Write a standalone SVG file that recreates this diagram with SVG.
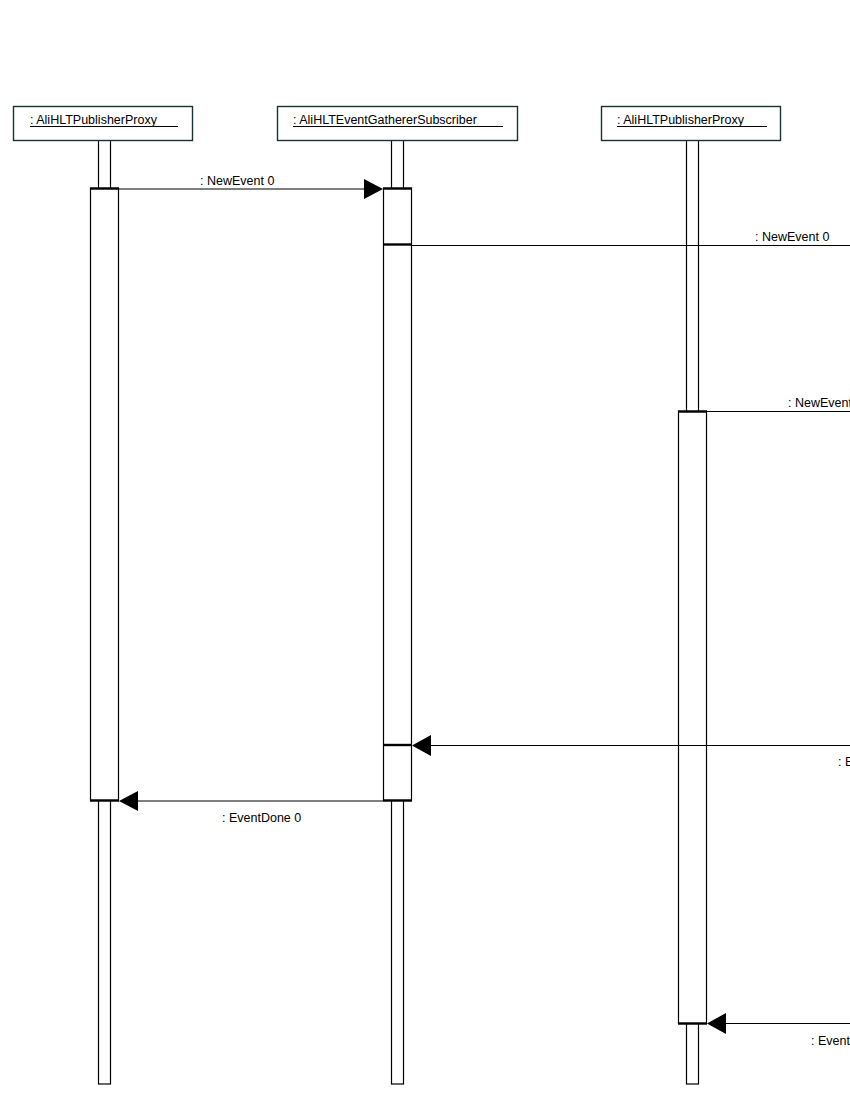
<svg xmlns="http://www.w3.org/2000/svg" width="850" height="1100" viewBox="0 0 850 1100">
<style>
.obj{fill:#fff;stroke:#1c3232;stroke-width:1.4}
.life{fill:#fff;stroke:#000;stroke-width:1.2}
.act{fill:#fff;stroke:#000;stroke-width:1.2}
.thick{stroke:#000;stroke-width:2.4}
.msg{stroke:#000;stroke-width:1.2;fill:none}
.head{fill:#000}
text{font-family:"Liberation Sans",Arial,sans-serif;font-size:12.5px;fill:#000}
.ul{stroke:#000;stroke-width:1}
</style>
<rect width="850" height="1100" fill="#fff"/>

<g id="obj1">
<rect class="life" x="98.5" y="140" width="12" height="944"/>
<rect class="act" x="90.5" y="188.5" width="28" height="612"/>
<line class="thick" x1="90" y1="188.5" x2="119" y2="188.5"/>
<line class="thick" x1="90" y1="800.5" x2="119" y2="800.5"/>
<rect class="obj" x="13.5" y="106.5" width="179" height="34"/>
<text x="30" y="124">: AliHLTPublisherProxy</text>
<line class="ul" x1="30" y1="126.5" x2="178" y2="126.5"/>
</g>

<g id="obj2">
<rect class="life" x="391.5" y="140" width="12" height="944"/>
<rect class="act" x="383.5" y="188.5" width="28" height="612"/>
<line class="thick" x1="383" y1="188.5" x2="412" y2="188.5"/>
<line class="thick" x1="383" y1="244.5" x2="412" y2="244.5"/>
<line class="thick" x1="383" y1="745" x2="412" y2="745"/>
<line class="thick" x1="383" y1="800.5" x2="412" y2="800.5"/>
<rect class="obj" x="277.5" y="106.5" width="240" height="34"/>
<text x="293" y="124">: AliHLTEventGathererSubscriber</text>
<line class="ul" x1="293" y1="126.5" x2="503" y2="126.5"/>
</g>

<g id="obj3">
<rect class="life" x="686.5" y="140" width="12" height="944"/>
<rect class="act" x="678.5" y="411.5" width="28" height="612"/>
<line class="thick" x1="678" y1="411.5" x2="707" y2="411.5"/>
<line class="thick" x1="678" y1="1023.5" x2="707" y2="1023.5"/>
<rect class="obj" x="601.5" y="106.5" width="179" height="34"/>
<text x="617" y="124">: AliHLTPublisherProxy</text>
<line class="ul" x1="617" y1="126.5" x2="767" y2="126.5"/>
</g>

<g id="connectors">
<line class="msg" x1="118" y1="189" x2="366" y2="189"/>
<polygon class="head" points="383,189 364,179 364,199"/>
<text x="200" y="185">: NewEvent 0</text>

<line class="msg" x1="411" y1="245.5" x2="850" y2="245.5"/>
<text x="755" y="241">: NewEvent 0</text>

<line class="msg" x1="706" y1="411.5" x2="850" y2="411.5"/>
<text x="788" y="407">: NewEvent</text>

<line class="msg" x1="430" y1="745.5" x2="850" y2="745.5"/>
<polygon class="head" points="412,745.5 431,735 431,756"/>
<text x="838" y="766">: E</text>

<line class="msg" x1="136" y1="801" x2="383" y2="801"/>
<polygon class="head" points="119,801 138,791 138,811"/>
<text x="222" y="822">: EventDone 0</text>

<line class="msg" x1="724" y1="1023.5" x2="850" y2="1023.5"/>
<polygon class="head" points="707,1023.5 726,1013 726,1034"/>
<text x="811" y="1045">: Event</text>
</g>
</svg>
